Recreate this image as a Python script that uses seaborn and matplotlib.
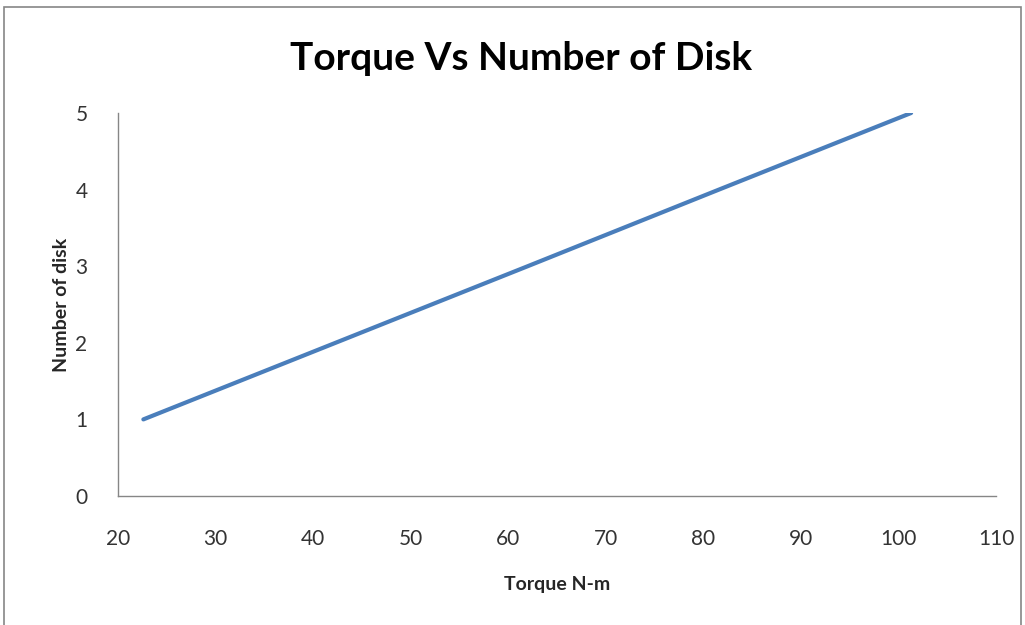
import matplotlib
matplotlib.use("Agg")
import matplotlib.pyplot as plt
import seaborn as sns
import pandas as pd
from matplotlib.patches import Rectangle

torque = [22.6, 42.3, 62.0, 81.6, 101.3]
disks = [1, 2, 3, 4, 5]
x_ticks = [20, 30, 40, 50, 60, 70, 80, 90, 100, 110]
y_ticks = [0, 1, 2, 3, 4, 5]

sns.set_style("white")
plt.rcParams['font.family'] = ['Lato', 'DejaVu Sans']

df = pd.DataFrame({"Torque N-m": torque, "Number of disk": disks})

fig = plt.figure(figsize=(10.25, 6.25), dpi=100)
ax = fig.add_axes([118/1025, 1 - 496/625, (996-118)/1025, (496-113)/625])

sns.lineplot(data=df, x="Torque N-m", y="Number of disk", ax=ax,
             color="#4A7EBB", linewidth=3.0, solid_capstyle="round")

ax.set_xlim(20, 110)
ax.set_ylim(0, 5)
ax.set_xticks(x_ticks)
ax.set_yticks(y_ticks)
ax.tick_params(axis="both", length=0, labelsize=15, colors="#333333")
ax.tick_params(axis="x", pad=24)
ax.tick_params(axis="y", pad=22)
for s in ["top", "right"]:
    ax.spines[s].set_visible(False)
for s in ["left", "bottom"]:
    ax.spines[s].set_color("#868686")
    ax.spines[s].set_linewidth(1.0)

ax.set_xlabel("Torque N-m", fontsize=14, fontweight="bold", labelpad=19)
ax.set_ylabel("Number of disk", fontsize=14, fontweight="bold", labelpad=4)
fig.text(0.508, 0.907, "Torque Vs Number of Disk", ha="center", va="center",
         fontsize=28, fontweight="bold", color="black")

fig.patches.append(Rectangle((4/1025, -0.01), (1021-4)/1025, 1 - 7/625 + 0.01,
                             transform=fig.transFigure, fill=False,
                             edgecolor="#868686", linewidth=1.2))

fig.savefig("out.png", dpi=100)
